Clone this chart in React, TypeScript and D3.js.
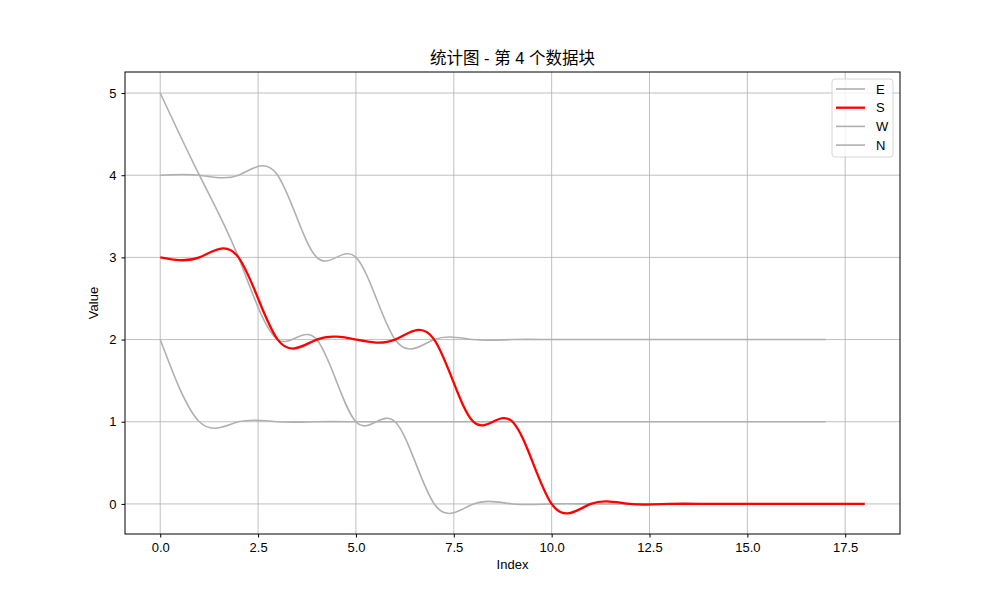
import React, { useEffect, useRef } from 'react';
import * as d3 from 'd3';

const seriesNames = ['E', 'S', 'W', 'N'];
const seriesE = [5, 4, 3, 2, 2, 1, 1, 0, 0, 0, 0, 0, 0, 0, 0, 0, 0, 0];
const seriesS = [3, 3, 3, 2, 2, 2, 2, 2, 1, 1, 0, 0, 0, 0, 0, 0, 0, 0, 0];
const seriesW = [4, 4, 4, 4, 3, 3, 2, 2, 2, 2, 2, 2, 2, 2, 2, 2, 2, 2];
const seriesN = [2, 1, 1, 1, 1, 1, 1, 1, 1, 1, 1, 1, 1, 1, 1, 1, 1, 1];
const seriesColors = ['#b0b0b0', '#ff0000', '#b0b0b0', '#b0b0b0'];
const xTicks = [0, 2.5, 5, 7.5, 10, 12.5, 15, 17.5];
const yTicks = [0, 1, 2, 3, 4, 5];

const FONT = '"Liberation Sans", "Noto Sans CJK SC", sans-serif';

export default function App() {
  const svgRef = useRef<SVGSVGElement>(null);

  useEffect(() => {
    if (!svgRef.current) return;
    const svg = d3.select(svgRef.current);
    svg.selectAll('*').remove();

    const margin = { top: 72, right: 100, bottom: 66, left: 125 };
    const width = 1000 - margin.left - margin.right;
    const height = 600 - margin.top - margin.bottom;

    const all = [seriesE, seriesS, seriesW, seriesN];
    const x = d3.scaleLinear().domain([-0.9, 18.9]).range([0, width]);
    const y = d3.scaleLinear().domain([-0.366, 5.256]).range([height, 0]);

    svg.append('rect').attr('width', 1000).attr('height', 600).attr('fill', '#fff');

    const g = svg.append('g').attr('transform', `translate(${margin.left},${margin.top})`);

    // grid
    g.selectAll('.gx')
      .data(xTicks)
      .enter()
      .append('line')
      .attr('x1', (d) => x(d))
      .attr('x2', (d) => x(d))
      .attr('y1', 0)
      .attr('y2', height)
      .attr('stroke', '#b0b0b0')
      .attr('stroke-width', 0.8);
    g.selectAll('.gy')
      .data(yTicks)
      .enter()
      .append('line')
      .attr('x1', 0)
      .attr('x2', width)
      .attr('y1', (d) => y(d))
      .attr('y2', (d) => y(d))
      .attr('stroke', '#b0b0b0')
      .attr('stroke-width', 0.8);

    const line = d3
      .line<number>()
      .x((_, i) => x(i))
      .y((d) => y(d))
      .curve(d3.curveNatural);

    // draw gray first, red on top
    const order = [0, 2, 3, 1];
    order.forEach((k) => {
      g.append('path')
        .datum(all[k])
        .attr('d', line)
        .attr('fill', 'none')
        .attr('stroke', seriesColors[k])
        .attr('stroke-width', k === 1 ? 2.3 : 1.6);
    });

    // frame
    g.append('rect')
      .attr('width', width)
      .attr('height', height)
      .attr('fill', 'none')
      .attr('stroke', '#000')
      .attr('stroke-width', 1);

    // axes
    const xAxis = g
      .append('g')
      .attr('transform', `translate(0,${height})`)
      .call(
        d3
          .axisBottom(x)
          .tickValues(xTicks)
          .tickSize(3.5)
          .tickPadding(5)
          .tickFormat((d) => d3.format('.1f')(d as number))
      );
    const yAxis = g.append('g').call(
      d3
        .axisLeft(y)
        .tickValues(yTicks)
        .tickSize(3.5)
        .tickPadding(5)
        .tickFormat((d) => String(d))
    );
    [xAxis, yAxis].forEach((a) => {
      a.select('.domain').remove();
      a.selectAll('text').attr('font-family', FONT).attr('font-size', 13).attr('fill', '#000');
      a.selectAll('line').attr('stroke', '#000');
    });

    // labels
    svg
      .append('text')
      .attr('x', margin.left + width / 2)
      .attr('y', 569)
      .attr('text-anchor', 'middle')
      .attr('font-family', FONT)
      .attr('font-size', 13)
      .text('Index');
    svg
      .append('text')
      .attr('transform', `translate(98,${margin.top + height / 2}) rotate(-90)`)
      .attr('text-anchor', 'middle')
      .attr('font-family', FONT)
      .attr('font-size', 13)
      .text('Value');
    svg
      .append('text')
      .attr('x', margin.left + width / 2)
      .attr('y', 64)
      .attr('text-anchor', 'middle')
      .attr('font-family', FONT)
      .attr('font-size', 16.5)
      .text('统计图 - 第 4 个数据块');

    // legend
    const lg = svg.append('g').attr('transform', 'translate(832,79)');
    lg.append('rect')
      .attr('width', 61)
      .attr('height', 78)
      .attr('rx', 3)
      .attr('fill', '#fff')
      .attr('fill-opacity', 0.8)
      .attr('stroke', '#d6d6d6');
    seriesNames.forEach((name, i) => {
      const cy = 10 + i * 18.7;
      lg.append('line')
        .attr('x1', 4)
        .attr('x2', 33)
        .attr('y1', cy)
        .attr('y2', cy)
        .attr('stroke', seriesColors[i])
        .attr('stroke-width', i === 1 ? 2.3 : 1.6);
      lg.append('text')
        .attr('x', 44)
        .attr('y', cy + 4.5)
        .attr('font-family', FONT)
        .attr('font-size', 13)
        .text(name);
    });
  }, []);

  return <svg ref={svgRef} width={1000} height={600} style={{ display: 'block', position: 'absolute', left: 0, top: 0 }} />;
}
